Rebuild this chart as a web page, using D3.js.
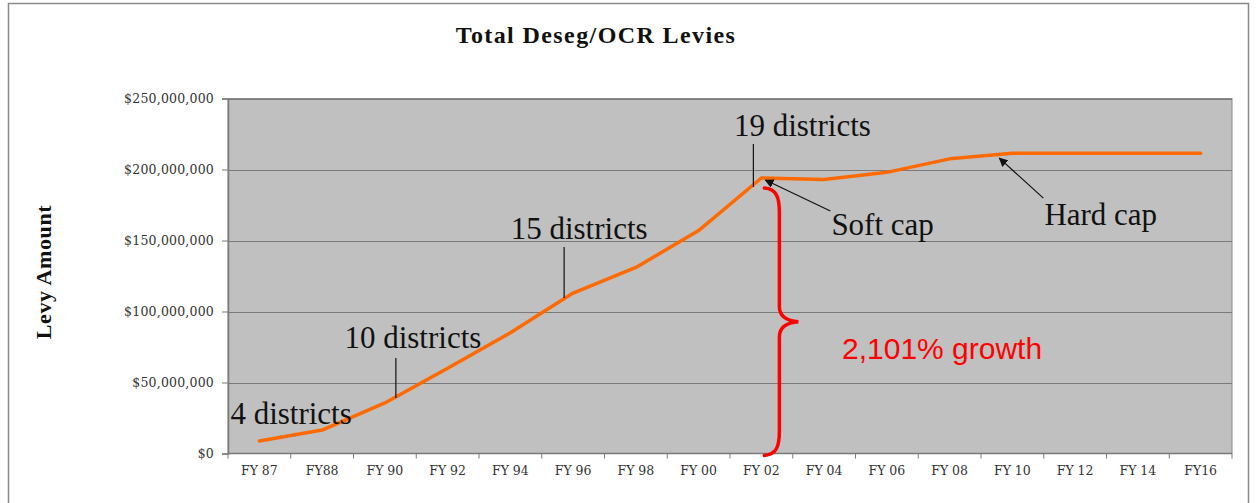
<!DOCTYPE html>
<html>
<head>
<meta charset="utf-8">
<script src="https://cdn.jsdelivr.net/npm/d3@7"></script>
<style>
  html, body { margin: 0; padding: 0; background: #fff; }
  svg { display: block; }
</style>
</head>
<body>
<svg id="chart" width="1258" height="503"></svg>
<script>
// ---- Data ----
const categories = ["FY 87","FY88","FY 90","FY 92","FY 94","FY 96","FY 98","FY 00","FY 02","FY 04","FY 06","FY 08","FY 10","FY 12","FY 14","FY16"];
const levies = [8.8e6, 16.5e6, 35.6e6, 60e6, 85e6, 113e6, 131e6, 157e6, 194e6, 193e6, 198e6, 207.5e6, 211.5e6, 211.5e6, 211.5e6, 211.5e6];
const yTickValues = [0, 50e6, 100e6, 150e6, 200e6, 250e6];
const districtLabels = ["4 districts", "10 districts", "15 districts", "19 districts"];
const capLabels = ["Soft cap", "Hard cap"];
const growthLabel = "2,101% growth";
const chartTitle = "Total Deseg/OCR Levies";
const yTitle = "Levy Amount";

(function () {
const svg = d3.select("#chart");
const plot = { left: 228, right: 1232, top: 98.5, bottom: 453.5 };

const x = d3.scaleBand().domain(categories).range([plot.left, plot.right]).padding(0);
const xc = c => x(c) + x.bandwidth() / 2;
const y = d3.scaleLinear().domain([0, 250e6]).range([plot.bottom, plot.top]);

// outer border
svg.append("rect").attr("x", 8.5).attr("y", 3.5).attr("width", 1240).attr("height", 520)
  .attr("fill", "#fff").attr("stroke", "#8a8a8a").attr("stroke-width", 1.5);

// title
svg.append("text").attr("x", 596).attr("y", 43).attr("text-anchor", "middle")
  .attr("font-family", "Liberation Serif").attr("font-weight", "bold").attr("font-size", 24)
  .attr("letter-spacing", 1.4).attr("fill", "#111").text(chartTitle);

// y axis title
svg.append("text").attr("transform", "translate(51,272) rotate(-90)").attr("text-anchor", "middle")
  .attr("font-family", "Liberation Serif").attr("font-weight", "bold").attr("font-size", 22)
  .attr("letter-spacing", 0.6).attr("fill", "#111").text(yTitle);

// plot background
svg.append("rect").attr("x", plot.left).attr("y", plot.top)
  .attr("width", plot.right - plot.left).attr("height", plot.bottom - plot.top)
  .attr("fill", "#c0c0c0").attr("stroke", "#8c8c8c").attr("stroke-width", 1);

// gridlines
svg.append("g").selectAll("line").data(yTickValues.filter(v => v > 0)).join("line")
  .attr("x1", plot.left).attr("x2", plot.right)
  .attr("y1", d => Math.round(y(d)) + 0.5).attr("y2", d => Math.round(y(d)) + 0.5)
  .attr("stroke", "#7a7a7a").attr("stroke-width", 1.2);

// y axis
const yAxis = d3.axisLeft(y).tickValues(yTickValues).tickSize(6).tickPadding(8)
  .tickFormat(d => "$" + d3.format(",")(d));
const gy = svg.append("g").attr("transform", `translate(${plot.left},0)`).call(yAxis);
gy.select(".domain").attr("stroke", "#7a7a7a").attr("stroke-width", 1.5);
gy.selectAll(".tick line").attr("stroke", "#7a7a7a");
gy.selectAll(".tick text").attr("font-family", "DejaVu Serif").attr("font-size", 12.5)
  .attr("letter-spacing", 0.2).attr("fill", "#333");

// x axis with ticks at band boundaries
const gx = svg.append("g").attr("transform", `translate(0,${plot.bottom})`);
gx.append("line").attr("x1", plot.left).attr("x2", plot.right).attr("y1", 0).attr("y2", 0)
  .attr("stroke", "#7a7a7a").attr("stroke-width", 1.5);
gx.selectAll("line.tk").data(categories.concat([null])).join("line").attr("class", "tk")
  .attr("x1", (d, i) => plot.left + i * x.bandwidth()).attr("x2", (d, i) => plot.left + i * x.bandwidth())
  .attr("y1", 0).attr("y2", 5).attr("stroke", "#7a7a7a");
gx.selectAll("text").data(categories).join("text")
  .attr("x", d => xc(d)).attr("y", 21).attr("text-anchor", "middle")
  .attr("font-family", "DejaVu Serif").attr("font-size", 12.5).attr("fill", "#333")
  .text(d => d);

// line
const pts = categories.map((c, i) => [xc(c), y(levies[i])]);
svg.append("path").datum(pts).attr("d", d3.line())
  .attr("fill", "none").attr("stroke", "#ff6a00").attr("stroke-width", 3.5)
  .attr("stroke-linejoin", "round").attr("stroke-linecap", "round");

// ---- Annotations ----
const annFont = "Liberation Serif";
const annSize = 31;
function annText(tx, ty, s, anchor) {
  svg.append("text").attr("x", tx).attr("y", ty).attr("text-anchor", anchor || "start")
    .attr("font-family", annFont).attr("font-size", annSize).attr("fill", "#111").text(s);
}
function leader(lx, y1, y2) {
  svg.append("line").attr("x1", lx).attr("x2", lx).attr("y1", y1).attr("y2", y2)
    .attr("stroke", "#111").attr("stroke-width", 1.2);
}
const P = i => pts[i];

annText(P(0)[0] - 29, P(0)[1] - 17, districtLabels[0]);
leader(P(2)[0] + 11, P(2)[1] - 45, P(2)[1] - 5);
annText(P(2)[0] + 28, P(2)[1] - 55, districtLabels[1], "middle");
leader(P(5)[0] - 9, P(5)[1] - 46, P(5)[1] + 5);
annText(P(5)[0] + 6, P(5)[1] - 54, districtLabels[2], "middle");
leader(P(8)[0] - 8, P(8)[1] - 34, P(8)[1] + 9);
annText(P(8)[0] + 41, P(8)[1] - 42, districtLabels[3], "middle");

svg.append("defs").append("marker").attr("id", "arr").attr("viewBox", "0 0 10 10")
  .attr("refX", 9).attr("refY", 5).attr("markerWidth", 9).attr("markerHeight", 9)
  .attr("markerUnits", "userSpaceOnUse").attr("orient", "auto")
  .append("path").attr("d", "M0,0 L10,5 L0,10 z").attr("fill", "#111");

svg.append("line").attr("x1", P(8)[0] + 69).attr("y1", P(8)[1] + 33)
  .attr("x2", P(8)[0] + 4).attr("y2", P(8)[1] + 2)
  .attr("stroke", "#111").attr("stroke-width", 1.2).attr("marker-end", "url(#arr)");
annText(P(8)[0] + 70, P(8)[1] + 57, capLabels[0]);
svg.append("line").attr("x1", P(12)[0] + 31).attr("y1", P(12)[1] + 45)
  .attr("x2", P(12)[0] - 13).attr("y2", P(12)[1] + 5)
  .attr("stroke", "#111").attr("stroke-width", 1.2).attr("marker-end", "url(#arr)");
annText(P(12)[0] + 32, P(12)[1] + 72, capLabels[1]);

const bx = P(8)[0] + 18, bTop = P(8)[1] + 10, bBot = plot.bottom + 2, mid = (bTop + bBot) / 2;
const braceLeft = P(8)[0] + 3, tip = bx + 19;
const brace = `M${braceLeft},${bTop} C${bx - 3},${bTop + 1} ${bx},${bTop + 9} ${bx},${bTop + 24}
  L${bx},${mid - 15} C${bx},${mid - 5} ${bx + 7},${mid - 1} ${tip},${mid}
  C${bx + 7},${mid + 1} ${bx},${mid + 5} ${bx},${mid + 15}
  L${bx},${bBot - 24} C${bx},${bBot - 9} ${bx - 3},${bBot - 1} ${braceLeft},${bBot}`;
svg.append("path").attr("d", brace).attr("fill", "none").attr("stroke", "#ff0000")
  .attr("stroke-width", 3.5).attr("stroke-linecap", "round");
svg.append("text").attr("x", 842).attr("y", mid + 37)
  .attr("font-family", "Liberation Sans").attr("font-size", 30).attr("fill", "#ff0000").text(growthLabel);
})();
</script>
</body>
</html>
